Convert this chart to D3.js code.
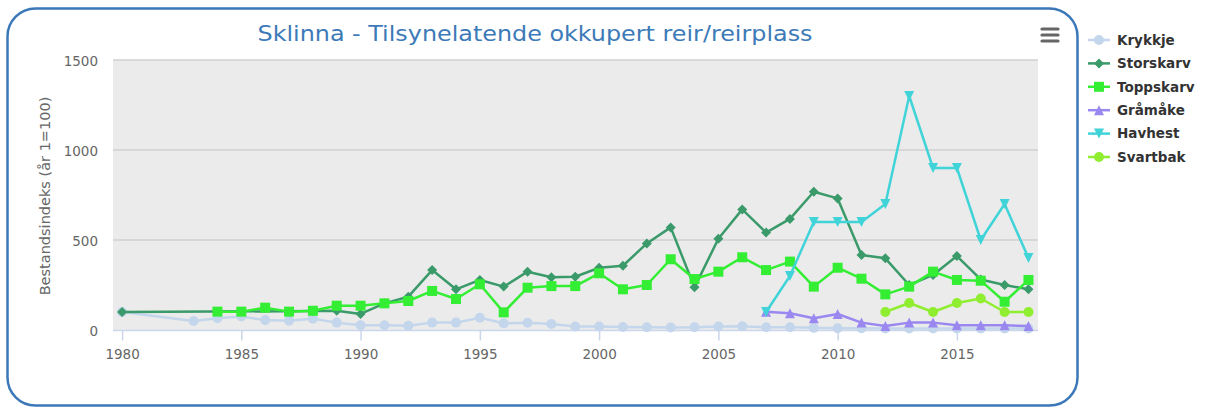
<!DOCTYPE html>
<html><head><meta charset="utf-8">
<script src="https://cdn.jsdelivr.net/npm/d3@7"></script>
<style>body{margin:0;background:#fff}svg{display:block}</style>
</head><body>
<svg id="chart" width="1215" height="408"></svg>
<script>
const title = "Sklinna - Tilsynelatende okkupert reir/reirplass";
const yTitle = "Bestandsindeks (år 1=100)";
const years = [1980,1983,1984,1985,1986,1987,1988,1989,1990,1991,1992,1993,1994,1995,1996,1997,1998,1999,2000,2001,2002,2003,2004,2005,2006,2007,2008,2009,2010,2011,2012,2013,2014,2015,2016,2017,2018];
const krykkje   = [100,50,65,75,55,52,63,41,26,26,24,41,41,68,37,40,33,19,19,17,15,14,15,19,21,15,15,12,10,10,8,8,8,8,8,8,8];
const storskarv = [100,null,null,null,null,null,105,107,89,148,185,333,226,278,241,324,293,296,346,357,481,570,237,507,670,541,617,768,731,417,398,250,306,411,281,250,226];
const toppskarv = [null,null,102,102,124,102,107,135,135,148,161,217,172,254,98,235,244,244,315,226,250,393,283,324,404,333,380,241,346,285,198,241,324,278,274,157,278];
const gramake   = [null,null,null,null,null,null,null,null,null,null,null,null,null,null,null,null,null,null,null,null,null,null,null,null,null,102,93,65,89,41,22,41,41,26,26,26,22];
const havhest   = [null,null,null,null,null,null,null,null,null,null,null,null,null,null,null,null,null,null,null,null,null,null,null,null,null,100,300,600,600,600,700,1300,900,900,500,700,400];
const svartbak  = [null,null,null,null,null,null,null,null,null,null,null,null,null,null,null,null,null,null,null,null,null,null,null,null,null,null,null,null,null,null,100,150,100,150,175,100,100];
const seriesNames = ["Krykkje","Storskarv","Toppskarv","Gråmåke","Havhest","Svartbak"];
const seriesValues = [krykkje, storskarv, toppskarv, gramake, havhest, svartbak];
const seriesColors = ["#c4d6ec","#3a9a6a","#33ee33","#9a88f0","#40d4d8","#90ee30"];
const seriesSymbols = ["circle","diamond","square","triangle","triangle-down","circle"];
const xTicks = [1980,1985,1990,1995,2000,2005,2010,2015];
const yTicks = [0,500,1000,1500];

const svg = d3.select("#chart");
const plot = {left:113, right:1038, top:60, bottom:330};
const x = d3.scaleLinear().domain([1979.62, 2018.4]).range([plot.left, plot.right]);
const y = d3.scaleLinear().domain([0, 1500]).range([plot.bottom, plot.top]);

function marker(type, r) {
  if (type === "circle") return `M${-r},0A${r},${r} 0 1,0 ${r},0A${r},${r} 0 1,0 ${-r},0Z`;
  if (type === "square") return `M${-r},${-r}H${r}V${r}H${-r}Z`;
  if (type === "diamond") return `M0,${-r}L${r},0L0,${r}L${-r},0Z`;
  if (type === "triangle") return `M0,${-r}L${r},${r}L${-r},${r}Z`;
  if (type === "triangle-down") return `M${-r},${-r}L${r},${-r}L0,${r}Z`;
}

// border
svg.append("rect").attr("x",7.5).attr("y",8.5).attr("width",1070).attr("height",397)
  .attr("rx",28).attr("fill","#fff").attr("stroke","#3b78b8").attr("stroke-width",2.5);

// plot bg
svg.append("rect").attr("x",plot.left).attr("y",plot.top)
  .attr("width",plot.right-plot.left).attr("height",plot.bottom-plot.top).attr("fill","#ebebeb");

// grid
svg.append("g").selectAll("line").data(yTicks.filter(d=>d>0)).join("line")
  .attr("x1",plot.left).attr("x2",plot.right).attr("y1",d=>y(d)).attr("y2",d=>y(d))
  .attr("stroke","#d0d0d0").attr("stroke-width",1.5);

// axes
const xAxis = d3.axisBottom(x).tickValues(xTicks).tickFormat(d3.format("d")).tickSize(10).tickPadding(6);
const gx = svg.append("g").attr("transform",`translate(0,${plot.bottom+0.5})`).call(xAxis);
gx.select(".domain").attr("d",`M${plot.left},0H${plot.right}`).attr("stroke","#ccd6eb").attr("stroke-width",1.5);
gx.selectAll(".tick line").attr("stroke","#ccd6eb").attr("stroke-width",1.5);
gx.selectAll("text").attr("fill","#666").style("font-family","DejaVu Sans").style("font-size","13.5px").attr("dy","0.95em");

const yAxis = d3.axisLeft(y).tickValues(yTicks).tickFormat(d3.format("d")).tickSize(0).tickPadding(15);
const gy = svg.append("g").attr("transform",`translate(${plot.left},0)`).call(yAxis);
gy.select(".domain").remove();
gy.selectAll("text").attr("fill","#666").style("font-family","DejaVu Sans").style("font-size","13.5px").attr("dy","0.42em");

// y title
svg.append("text").attr("transform","translate(50,196) rotate(-90)").attr("text-anchor","middle")
  .attr("fill","#666").style("font-family","DejaVu Sans").style("font-size","14.5px").text(yTitle);

// title
svg.append("text").attr("x",535).attr("y",41).attr("text-anchor","middle")
  .attr("fill","#3d7ab8").style("font-family","DejaVu Sans").style("font-size","21px")
  .attr("textLength",555).attr("lengthAdjust","spacingAndGlyphs").text(title);

// menu icon
svg.append("g").selectAll("line").data([29,35,41]).join("line")
  .attr("x1",1042).attr("x2",1058).attr("y1",d=>d).attr("y2",d=>d)
  .attr("stroke","#666").attr("stroke-width",3.2).attr("stroke-linecap","round");

// series
const line = d3.line().x(d=>x(d[0])).y(d=>y(d[1]));
seriesValues.forEach((vals,i)=>{
  const pts = years.map((yr,j)=>[yr, vals[j]]).filter(p=>p[1]!==null);
  const g = svg.append("g");
  g.append("path").datum(pts).attr("d",line).attr("fill","none")
    .attr("stroke",seriesColors[i]).attr("stroke-width",2.5).attr("stroke-linejoin","round");
  g.selectAll("path.m").data(pts).join("path").attr("class","m")
    .attr("transform",d=>`translate(${x(d[0])},${y(d[1])})`)
    .attr("d",marker(seriesSymbols[i], 5)).attr("fill",seriesColors[i]);
});

// legend
const leg = svg.append("g").selectAll("g").data(seriesNames).join("g")
  .attr("transform",(d,i)=>`translate(1088,${40+i*23.4})`);
leg.append("line").attr("x1",0).attr("x2",22).attr("stroke",(d,i)=>seriesColors[i]).attr("stroke-width",2.5);
leg.append("path").attr("transform","translate(11,0)").attr("d",(d,i)=>marker(seriesSymbols[i],5)).attr("fill",(d,i)=>seriesColors[i]);
leg.append("text").attr("x",29).attr("dy","0.35em").attr("fill","#333")
  .style("font-family","DejaVu Sans").style("font-weight","bold").style("font-size","13.5px").text(d=>d);
</script>
</body></html>
